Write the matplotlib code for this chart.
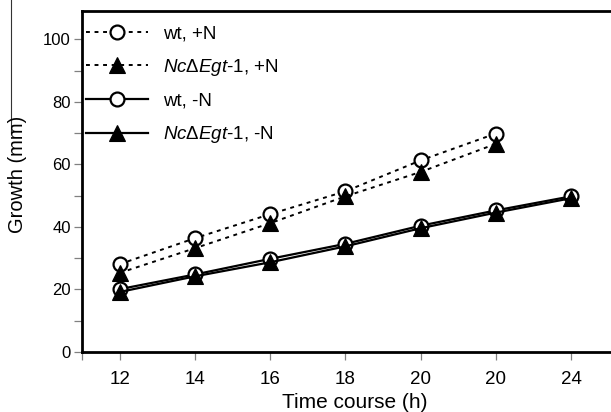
import matplotlib
matplotlib.use("Agg")
import matplotlib.pyplot as plt
from matplotlib.lines import Line2D
import numpy as np

plt.rcParams['font.family'] = ['Liberation Sans', 'DejaVu Sans']
plt.rcParams['mathtext.fontset'] = 'custom'
plt.rcParams['mathtext.rm'] = 'Liberation Sans'
plt.rcParams['mathtext.it'] = 'Liberation Sans:italic'

# Data
x_labels = ["12", "14", "16", "18", "20", "20", "24"]
wt_plusN = [28.1, 36.4, 44.1, 51.4, 61.3, 69.9]
nc_plusN = [25.3, 33.2, 41.2, 49.8, 57.6, 66.6]
wt_minusN = [20.1, 24.8, 29.8, 34.6, 40.4, 45.3, 49.8]
nc_minusN = [19.2, 24.2, 28.7, 33.8, 39.6, 44.6, 49.2]
series_labels = ["wt, +N",
                 r"$\mathit{Nc\Delta Egt}$-$\mathit{1}$, +N",
                 "wt, -N",
                 r"$\mathit{Nc\Delta Egt}$-$\mathit{1}$, -N"]

W, H = 611, 412
fig = plt.figure(figsize=(W / 100, H / 100), dpi=100)
ax = fig.add_axes([82 / W, (H - 352) / H, (W - 82) / W, 341 / H])

xp_plus = np.arange(len(wt_plusN))
xp_minus = np.arange(len(wt_minusN))

circ = dict(marker='o', ms=10, mfc='white', mec='black', mew=1.6, color='black')
tri = dict(marker='^', ms=11.5, mfc='black', mec='black', mew=0.8, color='black')

h1, = ax.plot(xp_plus, wt_plusN, ls=(0, (2, 2.4)), lw=1.4, zorder=3, **circ)
h2, = ax.plot(xp_plus, nc_plusN, ls=(0, (2, 2.4)), lw=1.4, zorder=4, **tri)
h3, = ax.plot(xp_minus, wt_minusN, ls='-', lw=1.6, zorder=5, **circ)
h4, = ax.plot(xp_minus, nc_minusN, ls='-', lw=1.6, zorder=6, **tri)

ax.set_xlim(-0.5, 6.53)
ax.set_ylim(0, 109.1)
ax.set_xticks(xp_minus)
ax.set_xticklabels(x_labels, fontsize=13.5)
ax.set_xticks([-0.5], minor=True)
ax.set_yticks([0, 20, 40, 60, 80, 100])
ax.set_yticklabels(["0", "20", "40", "60", "80", "100"], fontsize=12)
ax.set_yticks([10, 30, 50, 70, 90], minor=True)

ax.tick_params(axis='x', which='both', direction='out', length=6, width=0.9,
               color='#808080', pad=8)
ax.tick_params(axis='y', which='both', direction='out', length=6, width=0.9,
               color='#808080', pad=2)

for s in ['left', 'bottom', 'top']:
    ax.spines[s].set_linewidth(2.0)
    ax.spines[s].set_color('black')
ax.spines['right'].set_visible(False)

leg = fig.legend([h1, h2, h3, h4], series_labels, loc='upper left',
                 bbox_to_anchor=(86 / W, 1 - 25 / H), bbox_transform=fig.transFigure,
                 frameon=False, fontsize=13.5, handlelength=3.3, handletextpad=0.8,
                 labelspacing=0.78, borderpad=0, borderaxespad=0, numpoints=1)

fig.text(355 / W, 1 - 408 / H, "Time course (h)", fontsize=15,
         ha='center', va='baseline')
fig.text(18 / W, 1 - 174 / H, "Growth (mm)", fontsize=14.5,
         ha='center', va='center', rotation=90)

fig.add_artist(Line2D([10.5 / W, 10.5 / W], [1.0, 1 - 133 / H],
                      transform=fig.transFigure, color='#333333', lw=0.8))

fig.savefig("out.png", dpi=100)
